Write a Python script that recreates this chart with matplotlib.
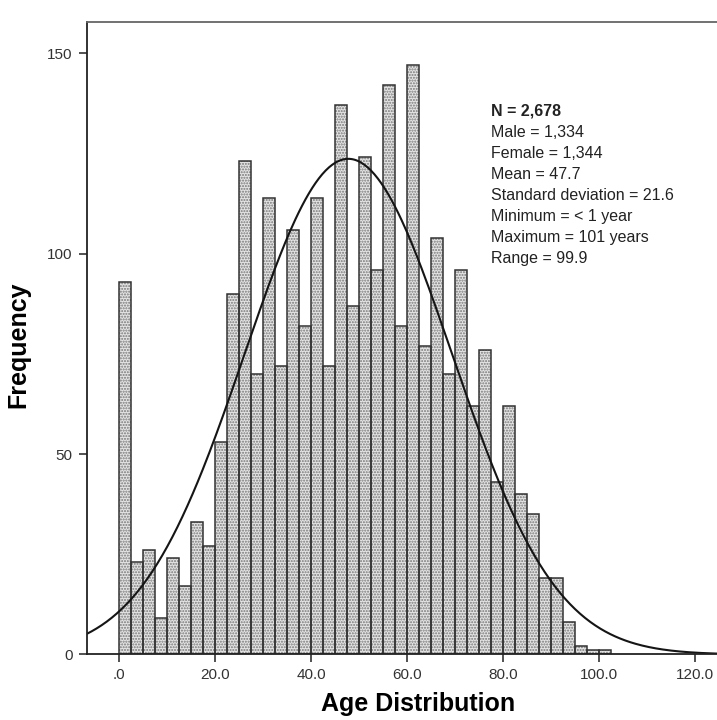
import matplotlib
matplotlib.use("Agg")
import matplotlib.pyplot as plt
import numpy as np

# histogram data (2.5-year bins starting at 0)
bin_width = 2.5
bin_starts = np.arange(0, 102.5 + 0.01, 2.5)[:41]
counts = [93, 23, 26, 9, 24, 17, 33, 27, 53, 90,
          123, 70, 114, 72, 106, 82, 114, 72, 137, 87,
          124, 96, 142, 82, 147, 77, 104, 70, 96, 62,
          76, 43, 62, 40, 35, 19, 19, 8, 2, 1, 1]

# summary statistics shown in the chart
n_total = 2678
mean_age = 47.7
sd_age = 21.6
stats_lines = ["Male = 1,334", "Female = 1,344", "Mean = 47.7",
               "Standard deviation = 21.6", "Minimum = < 1 year",
               "Maximum = 101 years", "Range = 99.9"]

x_ticks = [0, 20, 40, 60, 80, 100, 120]
x_ticklabels = [".0", "20.0", "40.0", "60.0", "80.0", "100.0", "120.0"]
y_ticks = [0, 50, 100, 150]

plt.rcParams["font.family"] = ["Liberation Sans", "DejaVu Sans"]

fig = plt.figure(figsize=(7.17, 7.2), dpi=100)
ax = fig.add_axes([0.1209, 0.0910, 0.8791, 0.8785])

# dotted fill layer, then outlines on top
ax.bar(bin_starts, counts, width=bin_width, align="edge",
       facecolor="#e4e4e4", edgecolor="#777777", hatch="......", linewidth=0)
ax.bar(bin_starts, counts, width=bin_width, align="edge",
       fill=False, edgecolor="#333333", linewidth=1.1)

# normal curve from the stated N, mean and SD
xs = np.linspace(-10, 130, 400)
ys = n_total * bin_width * np.exp(-0.5 * ((xs - mean_age) / sd_age) ** 2) / (sd_age * np.sqrt(2 * np.pi))
ax.plot(xs, ys, color="#151515", lw=1.5)

ax.set_xlim(-6.8, 124.5)
ax.set_ylim(0, 157.8)
ax.set_xticks(x_ticks)
ax.set_xticklabels(x_ticklabels)
ax.set_yticks(y_ticks)
ax.tick_params(direction="out", length=6, width=1.2, labelsize=11, pad=4,
               labelcolor="#333333", color="#333333")

for side in ["left", "bottom"]:
    ax.spines[side].set_color("#222222")
    ax.spines[side].set_linewidth(1.3)
ax.spines["top"].set_color("#666666")
ax.spines["top"].set_linewidth(1.3)
ax.spines["right"].set_visible(False)

ax.set_xlabel("Age Distribution", fontsize=18, fontweight="bold")
ax.set_ylabel("Frequency", fontsize=18, fontweight="bold")
ax.xaxis.set_label_coords(0.526, -0.06)
ax.yaxis.set_label_coords(-0.09, 0.49)

# stats block
x0 = 0.641
y0 = 0.859
step = 0.0333
ax.text(x0, y0, f"N = {n_total:,}", transform=ax.transAxes, fontsize=11.5,
        fontweight="bold", va="center", ha="left", color="#222222")
for i, line in enumerate(stats_lines):
    ax.text(x0, y0 - step * (i + 1), line, transform=ax.transAxes, fontsize=11.5,
            va="center", ha="left", color="#222222")

fig.savefig("out.png", dpi=100)
